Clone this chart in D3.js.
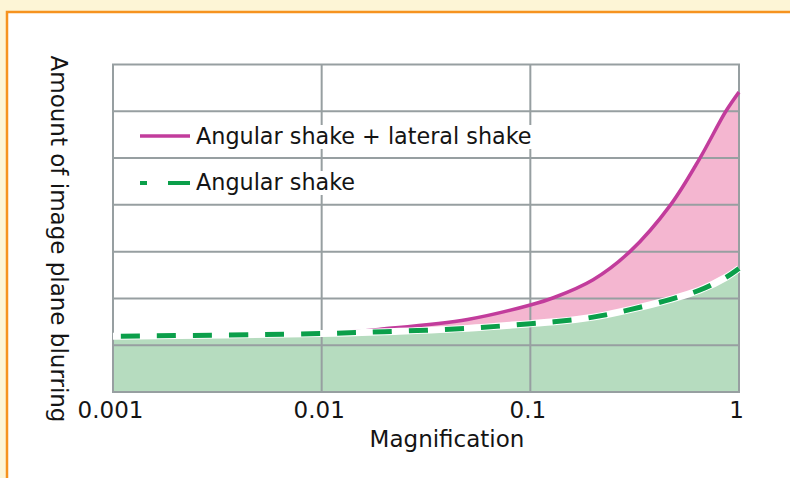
<!DOCTYPE html>
<html>
<head>
<meta charset="utf-8">
<script src="https://cdn.jsdelivr.net/npm/d3@7"></script>
<style>
  html, body { margin: 0; padding: 0; background: #fdf5d6; }
  svg { display: block; }
  text { font-family: "DejaVu Sans", Verdana, sans-serif; fill: #141414; }
</style>
</head>
<body>
<svg id="chart" width="790" height="478"></svg>
<script>
// magnification (log axis) and blurring values
const magnification = [0.001, 0.01, 0.02, 0.05, 0.1, 0.13, 0.2, 0.3, 0.47, 0.65, 0.865, 1];
const combinedShake = [1.19, 1.25, 1.35, 1.55, 1.86, 2.02, 2.4, 3.0, 4.0, 5.0, 6.0, 6.41];
const angularShake = [1.19, 1.25, 1.29, 1.36, 1.46, 1.5, 1.6, 1.76, 1.98, 2.18, 2.45, 2.64];

const xTicks = [0.001, 0.01, 0.1, 1];
const xTickLabels = ['0.001', '0.01', '0.1', '1'];
const yGrid = [0, 1, 2, 3, 4, 5, 6, 7];

const seriesNames = ['Angular shake + lateral shake', 'Angular shake'];

const pinkLine = '#c23c9c';
const pinkFill = '#f4b6d0';
const greenLine = '#0b9f4a';
const greenFill = '#b6dcbf';
const gridColor = '#979fa1';
const fontSize = '23px';

const svg = d3.select('#chart');

// white panel with orange frame
svg.append('rect')
  .attr('x', 7).attr('y', 12)
  .attr('width', 820).attr('height', 500)
  .attr('fill', '#ffffff')
  .attr('stroke', '#f6931f')
  .attr('stroke-width', 2.5);

const x = d3.scaleLog().domain([0.001, 1]).range([113, 739]);
const y = d3.scaleLinear().domain([0, 7]).range([392, 64.5]);

const rows = magnification.map((m, i) => ({ m, top: combinedShake[i], base: angularShake[i] }));

const curve = d3.curveCatmullRom.alpha(0.5);

// fills
svg.append('path')
  .datum(rows)
  .attr('fill', greenFill)
  .attr('d', d3.area().curve(curve).x(d => x(d.m)).y0(y(0)).y1(d => y(d.base)));

svg.append('path')
  .datum(rows)
  .attr('fill', pinkFill)
  .attr('d', d3.area().curve(curve).x(d => x(d.m)).y0(d => y(d.base)).y1(d => y(d.top)));

// vertical grid
svg.append('g')
  .selectAll('line')
  .data(xTicks)
  .enter().append('line')
    .attr('x1', d => x(d)).attr('x2', d => x(d))
    .attr('y1', y(0)).attr('y2', y(7))
    .attr('stroke', gridColor)
    .attr('stroke-width', 2);

// legend (white boxes behind text hide the vertical grid)
const legend = svg.append('g');
const legendY = [144, 190];
const boxes = legend.append('g');
const labels = legend.selectAll('text.leg')
  .data(seriesNames)
  .enter().append('text')
    .attr('class', 'leg')
    .attr('x', 196)
    .attr('y', (d, i) => legendY[i])
    .style('font-size', '22.3px')
    .text(d => d);

labels.each(function() {
  const b = this.getBBox();
  boxes.append('rect')
    .attr('x', b.x - 3).attr('y', b.y + 2)
    .attr('width', b.width + 6).attr('height', b.height - 2)
    .attr('fill', '#ffffff');
});
labels.raise();

// horizontal grid
svg.append('g')
  .selectAll('line')
  .data(yGrid)
  .enter().append('line')
    .attr('x1', x(0.001) - 1).attr('x2', x(1) + 1)
    .attr('y1', d => y(d)).attr('y2', d => y(d))
    .attr('stroke', gridColor)
    .attr('stroke-width', 2);

legend.raise();

// curves
const line = d3.line().curve(curve).x(d => x(d.m));

svg.append('path')
  .datum(rows)
  .attr('fill', 'none')
  .attr('stroke', pinkLine)
  .attr('stroke-width', 3.5)
  .attr('d', line.y(d => y(d.top)));

svg.append('path')
  .datum(rows)
  .attr('fill', 'none')
  .attr('stroke', '#ffffff')
  .attr('stroke-width', 7)
  .attr('d', line.y(d => y(d.base)));

svg.append('path')
  .datum(rows)
  .attr('fill', 'none')
  .attr('stroke', greenLine)
  .attr('stroke-width', 5)
  .attr('stroke-dasharray', '19,17')
  .attr('stroke-dashoffset', -8)
  .attr('d', line.y(d => y(d.base)));

// legend samples
legend.append('line')
  .attr('x1', 140).attr('x2', 190)
  .attr('y1', 136).attr('y2', 136)
  .attr('stroke', pinkLine)
  .attr('stroke-width', 3.5);

legend.append('line')
  .attr('x1', 140).attr('x2', 190)
  .attr('y1', 183).attr('y2', 183)
  .attr('stroke', greenLine)
  .attr('stroke-width', 4)
  .attr('stroke-dasharray', '7,21,22');

// x axis labels
const xAxis = d3.axisBottom(x)
  .tickValues(xTicks)
  .tickFormat((d, i) => xTickLabels[i])
  .tickSize(0)
  .tickPadding(0);

const gx = svg.append('g')
  .attr('transform', 'translate(-3,' + 418 + ')')
  .call(xAxis);
gx.select('.domain').remove();
gx.selectAll('text')
  .attr('dy', 0)
  .attr('y', 0)
  .style('font-size', fontSize)
  .style('font-family', '"DejaVu Sans", Verdana, sans-serif')
  .attr('fill', '#141414');

svg.append('text')
  .attr('x', 447).attr('y', 447)
  .attr('text-anchor', 'middle')
  .style('font-size', fontSize)
  .text('Magnification');

svg.append('text')
  .attr('transform', 'translate(51,239) rotate(90)')
  .attr('text-anchor', 'middle')
  .style('font-size', fontSize)
  .text('Amount of image plane blurring');
</script>
</body>
</html>
